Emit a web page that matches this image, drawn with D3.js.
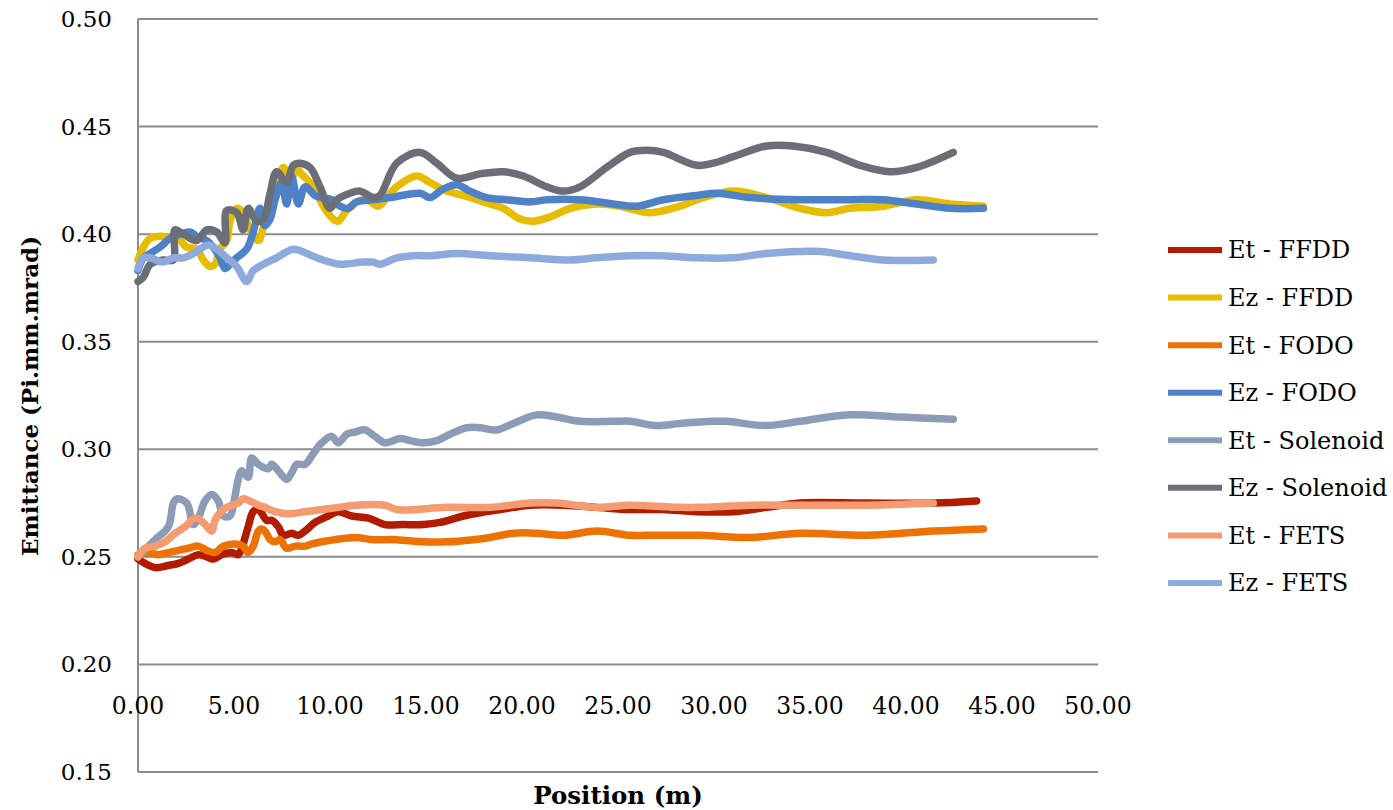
<!DOCTYPE html>
<html>
<head>
<meta charset="utf-8">
<script src="https://cdn.jsdelivr.net/npm/d3@7"></script>
<style>
html,body{margin:0;padding:0;background:#fff;}
svg{display:block;}
text{font-family:"DejaVu Serif",serif;fill:#000;}
</style>
</head>
<body>
<svg id="chart" width="1393" height="810"></svg>
<script>
// ---- data ----
const seriesNames = ["Et - FFDD","Ez - FFDD","Et - FODO","Ez - FODO","Et - Solenoid","Ez - Solenoid","Et - FETS","Ez - FETS"];
const seriesColors = ["#b31b00","#e6bd00","#ee7203","#4f81c6","#8c9cb7","#6b6e76","#f59b72","#8eaadc"];
const xTicks = [0,5,10,15,20,25,30,35,40,45,50];
const yTicks = [0.15,0.20,0.25,0.30,0.35,0.40,0.45,0.50];

const etFFDD = [[0,0.249],[0.36,0.247],[0.89,0.245],[1.58,0.246],[2.1,0.247],[2.62,0.249],[3.14,0.251],[3.58,0.250],[3.92,0.249],[4.36,0.251],[4.88,0.252],[5.22,0.251],[5.4,0.254],[5.74,0.264],[6.0,0.271],[6.27,0.272],[6.7,0.267],[6.96,0.267],[7.31,0.264],[7.57,0.260],[8.0,0.261],[8.35,0.260],[8.7,0.262],[9.22,0.266],[9.91,0.269],[10.43,0.271],[11.13,0.269],[12.0,0.268],[12.86,0.265],[13.82,0.265],[14.86,0.265],[15.73,0.266],[16.95,0.269],[18.16,0.271],[19.55,0.273],[20.42,0.274],[22.15,0.274],[23.89,0.273],[25.63,0.272],[27.36,0.272],[29.1,0.271],[31.0,0.271],[32.74,0.273],[34.48,0.275],[37.95,0.275],[41.42,0.275],[43.68,0.276]];
const ezFFDD = [[0,0.388],[0.28,0.394],[0.63,0.398],[1.15,0.399],[1.84,0.398],[2.19,0.397],[2.53,0.394],[3.06,0.393],[3.40,0.388],[3.75,0.385],[4.01,0.386],[4.27,0.393],[4.62,0.397],[4.79,0.406],[5.14,0.412],[5.48,0.410],[5.83,0.402],[6.27,0.397],[6.53,0.403],[6.88,0.412],[7.22,0.422],[7.57,0.431],[7.92,0.425],[8.27,0.430],[8.61,0.427],[8.96,0.424],[9.31,0.419],[9.65,0.413],[10.17,0.407],[10.43,0.406],[10.87,0.411],[11.39,0.415],[11.91,0.416],[12.52,0.413],[12.95,0.417],[13.47,0.422],[14.51,0.427],[15.21,0.424],[16.08,0.420],[16.95,0.418],[18.33,0.414],[19.03,0.412],[19.90,0.407],[20.59,0.406],[21.46,0.408],[22.5,0.412],[23.89,0.414],[25.1,0.413],[26.67,0.410],[28.23,0.413],[29.44,0.417],[31.0,0.420],[32.74,0.417],[34.48,0.412],[35.87,0.410],[37.08,0.412],[38.82,0.413],[40.56,0.416],[42.29,0.414],[44.03,0.413]];
const etFODO = [[0,0.251],[0.54,0.252],[1.06,0.251],[1.58,0.252],[2.1,0.253],[2.62,0.254],[3.14,0.255],[3.58,0.253],[4.01,0.252],[4.44,0.255],[5.05,0.256],[5.48,0.255],[5.74,0.252],[6.0,0.255],[6.27,0.262],[6.44,0.263],[6.61,0.262],[6.88,0.258],[7.14,0.257],[7.4,0.258],[7.74,0.254],[8.18,0.255],[8.7,0.255],[9.05,0.256],[9.57,0.257],[10.26,0.258],[11.3,0.259],[12.26,0.258],[13.47,0.258],[14.86,0.257],[16.08,0.257],[17.46,0.258],[18.33,0.259],[19.55,0.261],[20.77,0.261],[22.15,0.260],[23.89,0.262],[25.63,0.260],[26.49,0.260],[28.23,0.260],[29.27,0.260],[31.88,0.259],[34.48,0.261],[37.95,0.260],[41.42,0.262],[44.03,0.263]];
const ezFODO = [[0,0.383],[0.28,0.389],[0.63,0.391],[1.15,0.394],[1.67,0.398],[2.19,0.400],[2.71,0.401],[3.06,0.399],[3.58,0.397],[3.92,0.394],[4.27,0.389],[4.53,0.384],[4.79,0.386],[5.14,0.389],[5.66,0.393],[6.0,0.401],[6.35,0.412],[6.61,0.404],[6.88,0.407],[7.14,0.416],[7.48,0.424],[7.74,0.414],[8.0,0.427],[8.35,0.414],[8.7,0.422],[9.22,0.418],[9.57,0.417],[10.09,0.416],[10.52,0.413],[10.95,0.412],[11.39,0.415],[12.26,0.416],[13.13,0.417],[14.69,0.419],[15.21,0.417],[15.9,0.421],[16.6,0.423],[17.29,0.420],[18.16,0.417],[19.2,0.416],[20.42,0.415],[21.29,0.416],[23.02,0.416],[24.76,0.414],[25.97,0.413],[27.36,0.416],[29.1,0.418],[30.14,0.419],[31.88,0.417],[34.48,0.416],[37.08,0.416],[38.82,0.416],[40.56,0.414],[42.29,0.412],[44.03,0.412]];
const etSolenoid = [[0,0.250],[0.89,0.258],[1.58,0.264],[1.84,0.275],[2.02,0.277],[2.54,0.275],[2.88,0.265],[3.14,0.268],[3.49,0.276],[3.84,0.279],[4.18,0.276],[4.44,0.269],[4.79,0.269],[5.05,0.278],[5.22,0.286],[5.4,0.290],[5.74,0.287],[5.92,0.296],[6.27,0.293],[6.79,0.291],[6.96,0.293],[7.31,0.290],[7.74,0.286],[8.0,0.289],[8.27,0.293],[8.7,0.293],[9.13,0.298],[9.57,0.303],[10.09,0.306],[10.43,0.303],[10.87,0.307],[11.3,0.308],[11.82,0.309],[12.34,0.306],[12.86,0.303],[13.65,0.305],[14.17,0.304],[14.86,0.303],[15.56,0.304],[16.25,0.307],[17.12,0.310],[17.81,0.310],[18.68,0.309],[19.55,0.312],[20.77,0.316],[21.81,0.315],[23.02,0.313],[24.76,0.313],[25.63,0.313],[27.02,0.311],[28.23,0.312],[29.96,0.313],[30.66,0.313],[32.74,0.311],[34.48,0.313],[37.08,0.316],[39.69,0.315],[42.46,0.314]];
const ezSolenoid = [[0,0.378],[0.28,0.380],[0.63,0.386],[1.32,0.388],[1.84,0.388],[1.93,0.402],[2.36,0.400],[3.06,0.397],[3.58,0.402],[4.10,0.401],[4.53,0.396],[4.62,0.411],[5.14,0.410],[5.48,0.402],[5.74,0.412],[6.18,0.406],[6.53,0.407],[6.88,0.419],[7.22,0.429],[7.74,0.424],[8.09,0.432],[8.44,0.433],[8.96,0.431],[9.48,0.422],[10.0,0.412],[10.35,0.416],[11.04,0.419],[11.56,0.420],[12.26,0.417],[12.60,0.418],[13.47,0.433],[14.69,0.438],[15.56,0.433],[16.6,0.426],[17.81,0.428],[19.03,0.429],[20.07,0.427],[21.29,0.422],[22.15,0.420],[23.02,0.422],[24.41,0.431],[25.63,0.438],[26.49,0.439],[27.36,0.438],[29.10,0.432],[29.96,0.433],[31.0,0.436],[32.74,0.441],[34.13,0.441],[35.87,0.438],[37.6,0.432],[39.17,0.429],[40.56,0.431],[42.46,0.438]];
const etFETS = [[0,0.250],[0.36,0.254],[0.89,0.255],[1.41,0.257],[1.93,0.261],[2.45,0.264],[2.97,0.268],[3.4,0.266],[3.84,0.262],[4.01,0.267],[4.44,0.272],[4.88,0.274],[5.22,0.275],[5.48,0.277],[5.83,0.276],[6.27,0.274],[6.61,0.273],[7.14,0.271],[7.83,0.270],[8.7,0.271],[9.57,0.272],[10.43,0.273],[11.3,0.274],[12.86,0.274],[13.47,0.272],[16.08,0.273],[18.33,0.273],[20.42,0.275],[21.81,0.275],[23.89,0.273],[25.63,0.274],[28.23,0.273],[29.27,0.273],[31.88,0.274],[34.48,0.274],[37.95,0.274],[41.42,0.275]];
const ezFETS = [[0,0.384],[0.28,0.389],[0.63,0.389],[1.32,0.387],[1.84,0.389],[2.36,0.389],[2.88,0.391],[3.66,0.395],[4.1,0.393],[4.62,0.389],[5.14,0.385],[5.66,0.378],[6.0,0.383],[6.53,0.386],[7.22,0.389],[8.09,0.393],[8.79,0.391],[9.31,0.389],[10.0,0.387],[10.52,0.386],[11.74,0.387],[12.26,0.387],[12.6,0.386],[13.47,0.389],[14.34,0.390],[15.21,0.390],[16.6,0.391],[18.33,0.390],[20.42,0.389],[22.5,0.388],[23.89,0.389],[25.63,0.390],[27.36,0.390],[29.1,0.389],[31.0,0.389],[32.74,0.391],[35.33,0.392],[37.08,0.390],[38.82,0.388],[41.42,0.388]];

const seriesData = [etFFDD, ezFFDD, etFODO, ezFODO, etSolenoid, ezSolenoid, etFETS, ezFETS];

// ---- layout ----
const svg = d3.select("#chart");
const plotL = 138, plotR = 1098, plotT = 19, plotB = 772;
const x = d3.scaleLinear().domain([0, 50]).range([plotL, plotR]);
const y = d3.scaleLinear().domain([0.15, 0.50]).range([plotB, plotT]);

// grid lines
svg.append("g").selectAll("line").data(yTicks).join("line")
  .attr("x1", plotL).attr("x2", plotR)
  .attr("y1", d => y(d)).attr("y2", d => y(d))
  .attr("stroke", "#8c8c8c").attr("stroke-width", 2);
// left axis line
svg.append("line").attr("x1", plotL).attr("x2", plotL).attr("y1", plotT).attr("y2", plotB)
  .attr("stroke", "#8c8c8c").attr("stroke-width", 2);

// y tick labels
svg.append("g").selectAll("text").data(yTicks).join("text")
  .attr("x", 112).attr("y", d => y(d)).attr("dy", "0.35em")
  .attr("text-anchor", "end").style("font-size", "23px")
  .text(d => d3.format(".2f")(d));

// x tick labels
svg.append("g").selectAll("text").data(xTicks).join("text")
  .attr("x", d => x(d)).attr("y", 706).attr("dy", "0.35em")
  .attr("text-anchor", "middle").style("font-size", "23.5px")
  .text(d => d3.format(".2f")(d));

// axis titles
svg.append("text").attr("x", 618).attr("y", 795).attr("dy", "0.35em")
  .attr("text-anchor", "middle").style("font-size", "24.5px").style("font-weight", "bold")
  .text("Position (m)");
svg.append("text").attr("transform", "translate(30,396) rotate(-90)").attr("dy", "0.35em")
  .attr("text-anchor", "middle").style("font-size", "23px").style("font-weight", "bold")
  .text("Emittance (Pi.mm.mrad)");

// lines
const line = d3.line().x(d => x(d[0])).y(d => y(d[1])).curve(d3.curveCatmullRom.alpha(0.5));
svg.append("g").selectAll("path").data(seriesData).join("path")
  .attr("d", line)
  .attr("fill", "none")
  .attr("stroke", (d, i) => seriesColors[i])
  .attr("stroke-width", 7.5)
  .attr("stroke-linecap", "round")
  .attr("stroke-linejoin", "round");

// legend
const legY = d3.scalePoint().domain(seriesNames).range([250, 583]);
const leg = svg.append("g").selectAll("g").data(seriesNames).join("g")
  .attr("transform", d => `translate(0,${legY(d)})`);
leg.append("line").attr("x1", 1168).attr("x2", 1222).attr("y1", 0).attr("y2", 0)
  .attr("stroke", (d, i) => seriesColors[i]).attr("stroke-width", 6);
leg.append("text").attr("x", 1228).attr("y", 0).attr("dy", "0.35em")
  .style("font-size", "24px").text(d => d);
</script>
</body>
</html>
